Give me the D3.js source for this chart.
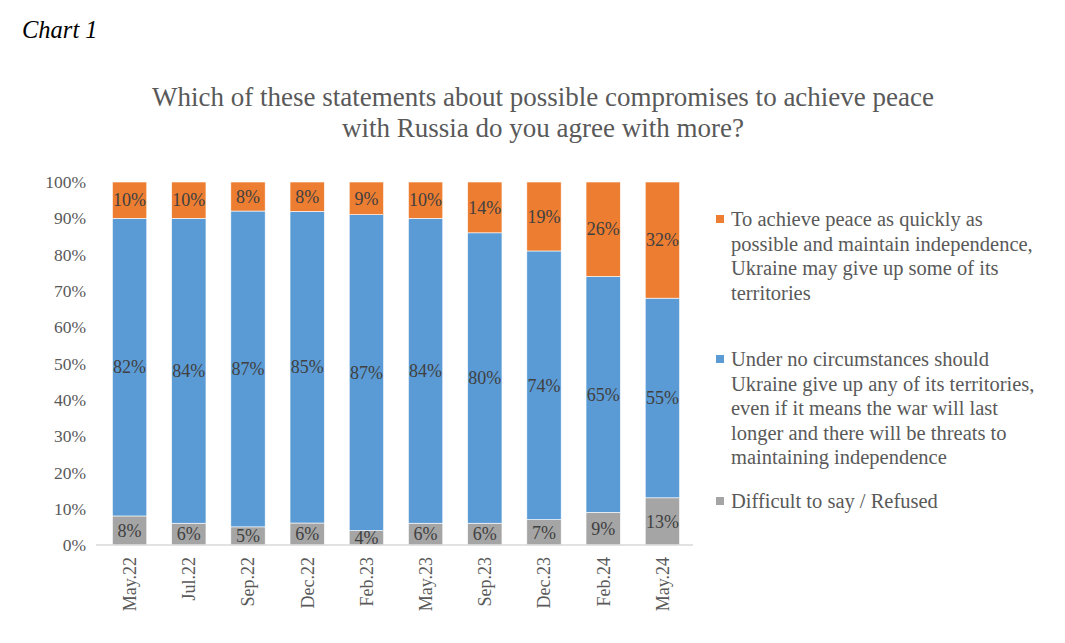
<!DOCTYPE html>
<html>
<head>
<meta charset="utf-8">
<script src="https://cdn.jsdelivr.net/npm/d3@7"></script>
<style>
  body { margin: 0; background: #fff; }
  text { font-family: "Liberation Serif", "Times New Roman", serif; }
</style>
</head>
<body>
<div id="container"></div>
<script>
/* DATA */
const waves = ["May.22", "Jul.22", "Sep.22", "Dec.22", "Feb.23", "May.23", "Sep.23", "Dec.23", "Feb.24", "May.24"];
const difficult = [8, 6, 5, 6, 4, 6, 6, 7, 9, 13];
const noConcession = [82, 84, 87, 85, 87, 84, 80, 74, 65, 55];
const giveUp = [10, 10, 8, 8, 9, 10, 14, 19, 26, 32];
const yTicks = [0, 0.1, 0.2, 0.3, 0.4, 0.5, 0.6, 0.7, 0.8, 0.9, 1];

const seriesKeys = ["difficult", "noConcession", "giveUp"];
const colors = { difficult: "#A5A5A5", noConcession: "#5B9BD5", giveUp: "#ED7D31" };
const legendItems = [
  { key: "giveUp", lines: ["To achieve peace as quickly as", "possible and maintain independence,", "Ukraine may give up some of its", "territories"], y: 219 },
  { key: "noConcession", lines: ["Under no circumstances should", "Ukraine give up any of its territories,", "even if it means the war will last", "longer and there will be threats to", "maintaining independence"], y: 359 },
  { key: "difficult", lines: ["Difficult to say / Refused"], y: 501 }
];

// table for d3.stack
const data = waves.map((w, i) => ({
  wave: w, difficult: difficult[i], noConcession: noConcession[i], giveUp: giveUp[i]
}));

/* CONSTANTS */
const width = 1065;
const height = 643;
const textColor = "#595959";

const svg = d3.select("#container")
  .append("svg")
  .attr("width", width)
  .attr("height", height);

// 100% stacked, like the Excel original
const stacked = d3.stack()
  .keys(seriesKeys)
  .offset(d3.stackOffsetExpand)(data);

const xScale = d3.scaleBand()
  .domain(waves)
  .range([100, 692])
  .paddingInner(0.42)
  .paddingOuter(0.21);

const yScale = d3.scaleLinear()
  .domain([0, 1])
  .range([545, 182]);

/* TITLES */
svg.append("text")
  .attr("x", 22).attr("y", 38)
  .attr("font-size", 24.5)
  .attr("font-style", "italic")
  .attr("fill", "#000")
  .text("Chart 1");

svg.append("text")
  .attr("x", 543).attr("y", 106)
  .attr("text-anchor", "middle")
  .attr("font-size", 27)
  .attr("fill", textColor)
  .selectAll("tspan")
  .data(["Which of these statements about possible compromises to achieve peace", "with Russia do you agree with more?"])
  .join("tspan")
    .attr("x", 543)
    .attr("dy", (d, i) => i === 0 ? 0 : 31)
    .text(d => d);

/* Y AXIS */
const yAxis = d3.axisLeft(yScale)
  .tickValues(yTicks)
  .tickFormat(d3.format(".0%"))
  .tickSize(0)
  .tickPadding(0);

const yG = svg.append("g")
  .attr("transform", "translate(86,0)")
  .call(yAxis);
yG.select(".domain").remove();
yG.selectAll("text")
  .attr("font-size", 17.5)
  .attr("fill", textColor);

/* BARS */
const layers = svg.selectAll(".layer")
  .data(stacked)
  .join("g")
    .attr("class", "layer")
    .attr("fill", d => colors[d.key]);

layers.selectAll("rect")
  .data(d => d)
  .join("rect")
    .attr("x", d => xScale(d.data.wave))
    .attr("y", d => yScale(d[1]))
    .attr("height", d => yScale(d[0]) - yScale(d[1]))
    .attr("width", xScale.bandwidth())
    .attr("stroke", "#fff")
    .attr("stroke-width", 0.6);

// data labels at segment centres
layers.selectAll("text")
  .data(d => d.map(v => ({ v, key: d.key })))
  .join("text")
    .attr("x", d => xScale(d.v.data.wave) + xScale.bandwidth() / 2)
    .attr("y", d => yScale((d.v[0] + d.v[1]) / 2))
    .attr("dy", "0.35em")
    .attr("text-anchor", "middle")
    .attr("font-size", 18)
    .attr("fill", "#404040")
    .text(d => d.v.data[d.key] + "%");

/* X AXIS */
const xAxis = d3.axisBottom(xScale).tickSize(0).tickPadding(0);
const xG = svg.append("g")
  .attr("transform", "translate(0,545)")
  .call(xAxis);
xG.select(".domain")
  .attr("d", "M96,0H693")
  .attr("stroke", "#D9D9D9")
  .attr("stroke-width", 1.3);
xG.selectAll("text")
  .attr("font-size", 18)
  .attr("fill", textColor)
  .attr("text-anchor", "end")
  .attr("transform", "rotate(-90)")
  .attr("x", -12)
  .attr("y", 0)
  .attr("dy", "0.35em");

/* LEGEND */
const legend = svg.selectAll(".legend")
  .data(legendItems)
  .join("g")
    .attr("class", "legend");

legend.append("rect")
  .attr("x", 716)
  .attr("y", d => d.y - 4)
  .attr("width", 8)
  .attr("height", 8)
  .attr("fill", d => colors[d.key]);

legend.append("text")
  .attr("font-size", 20.5)
  .attr("fill", textColor)
  .attr("y", d => d.y)
  .attr("dy", "0.35em")
  .selectAll("tspan")
  .data(d => d.lines)
  .join("tspan")
    .attr("x", 731)
    .attr("dy", (d, i) => i === 0 ? "0.35em" : 24.5)
    .text(d => d);
</script>
</body>
</html>
